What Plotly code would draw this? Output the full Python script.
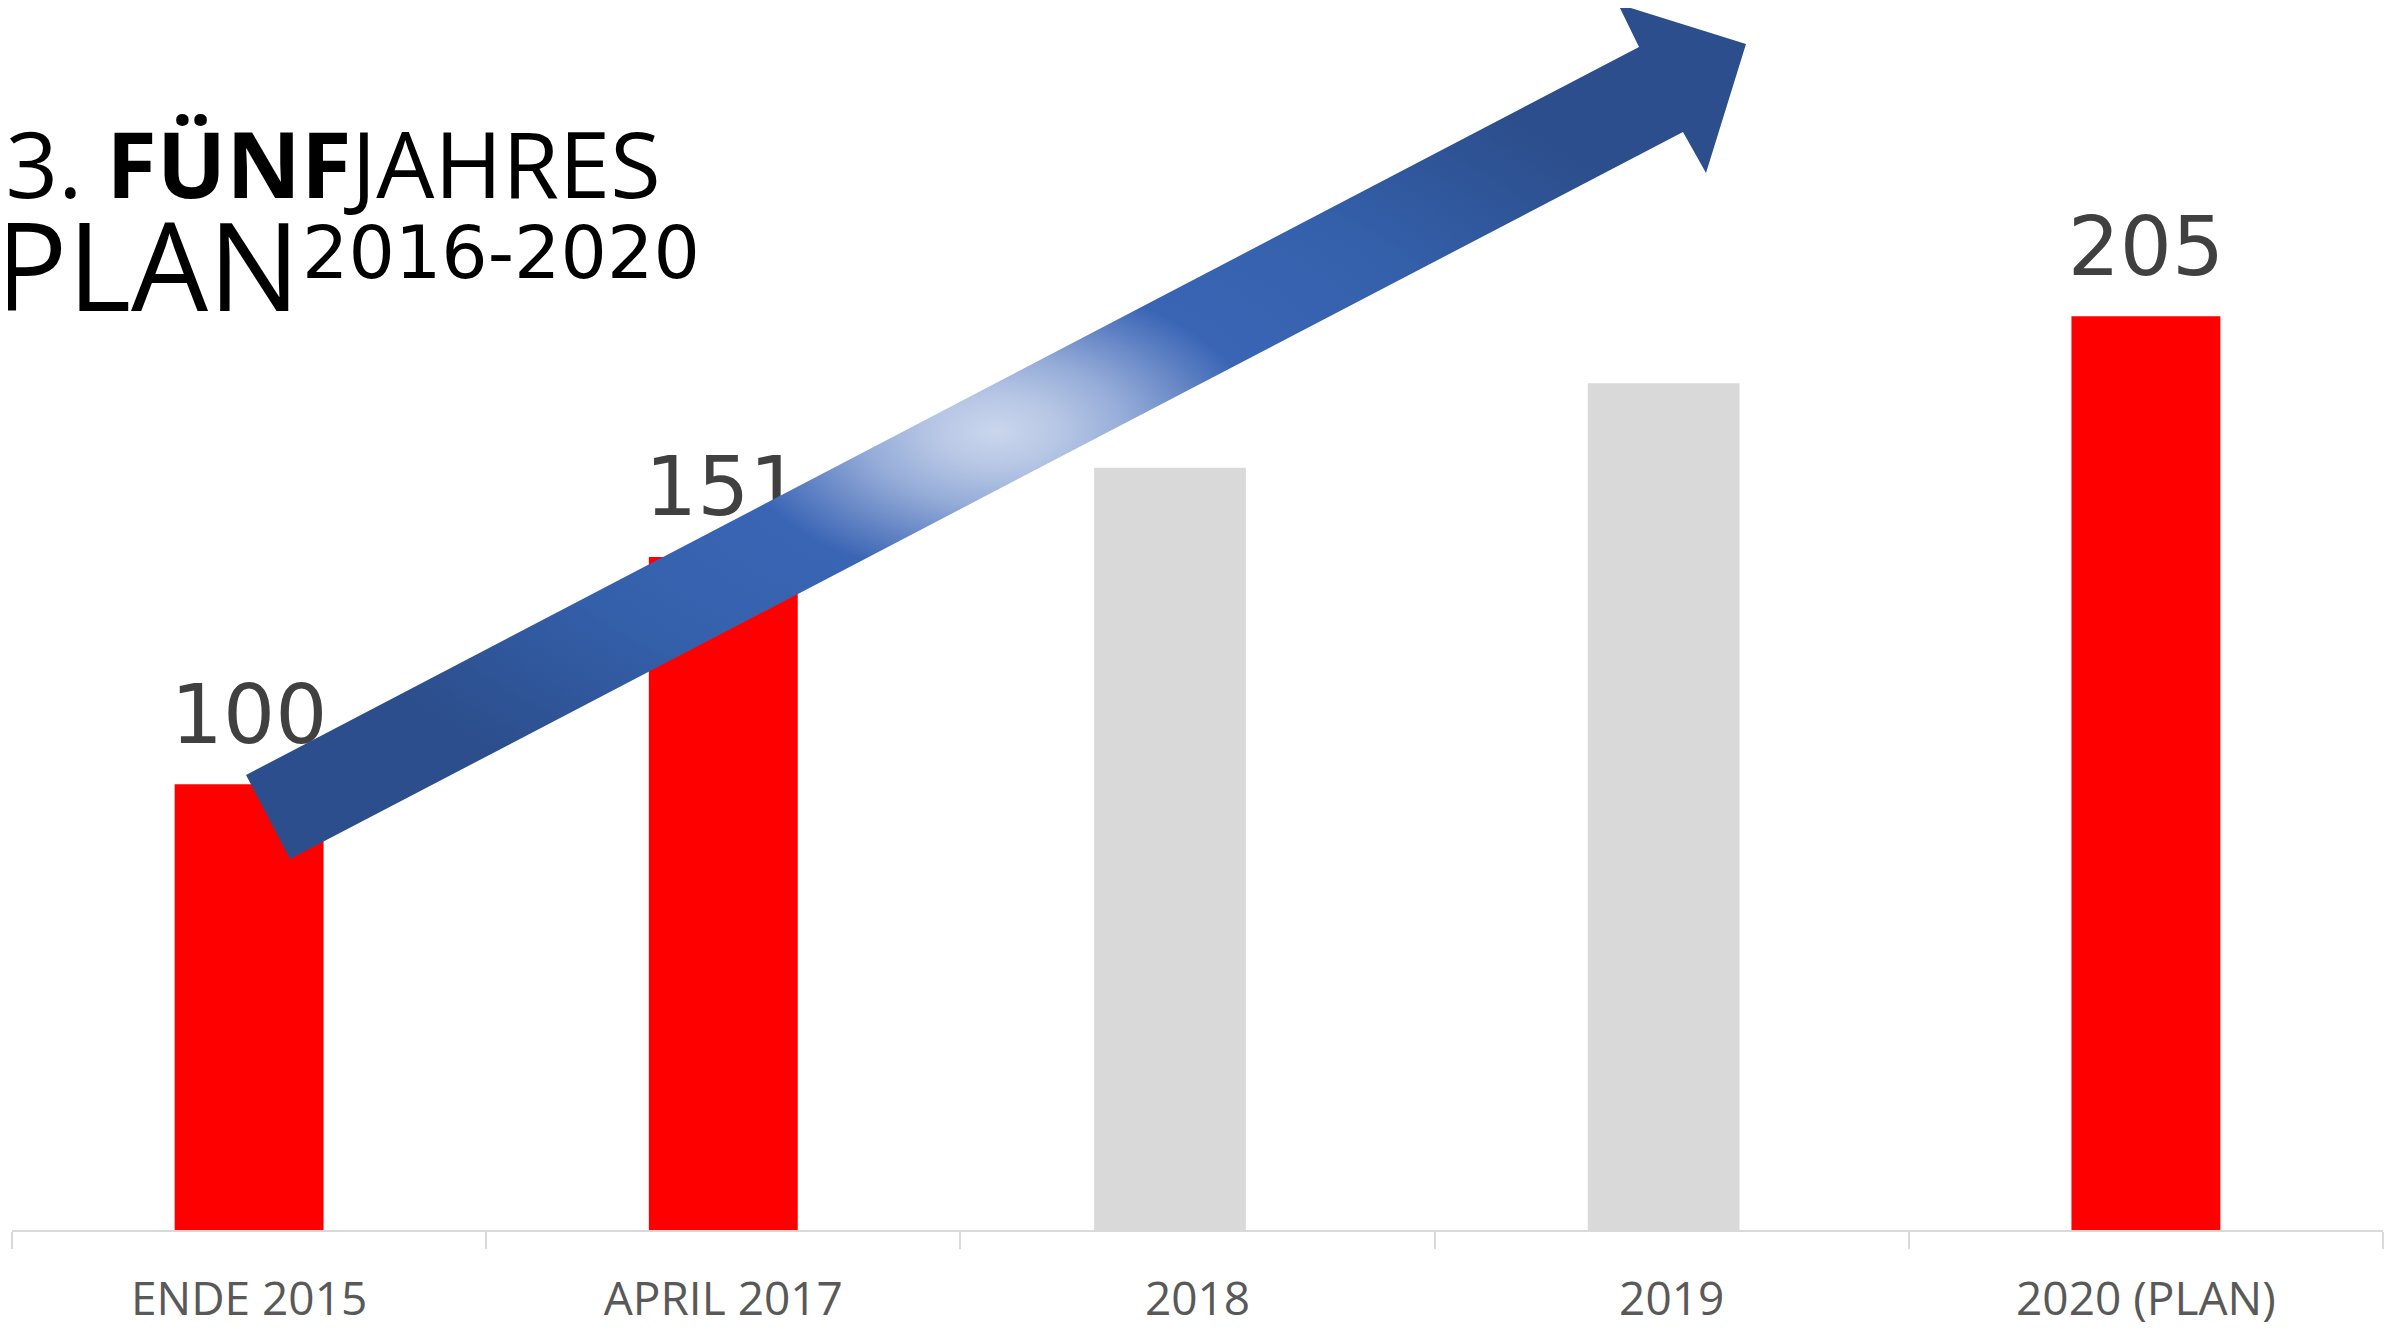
import plotly.graph_objects as go

# chart data
categories = ["ENDE 2015", "APRIL 2017", "2018", "2019", "2020 (PLAN)"]
values = [100, 151, 171, 190, 205]
highlighted = [True, True, False, False, True]

title_line1 = "13. <b>FÜNF</b>JAHRES"
title_line2 = "PLAN"
title_years = "2016-2020"

W, H = 2392, 1330
BODY = 8  # default page margin the browser puts round the figure
# plot area, in page pixels
PLOT_L, PLOT_R, PLOT_T, PLOT_B = 12, 2383, BODY, 1230
Y_MAX = (PLOT_B - PLOT_T) / 4.457
px_per_unit = (PLOT_B - PLOT_T) / Y_MAX

# big decorative arrow, in page pixels (x right, y down)
arrow_x = [246, 1639, 1618, 1746, 1706, 1683, 290, 246]
arrow_y = [775, 47, 4, 44, 173, 132, 859, 775]


def px(x):
    return (x - PLOT_L) / (PLOT_R - PLOT_L)


def py(y):
    return (PLOT_B - y) / (PLOT_B - PLOT_T)


red_x = [c for c, h in zip(categories, highlighted) if h]
red_y = [v for v, h in zip(values, highlighted) if h]
gray_x = [c for c, h in zip(categories, highlighted) if not h]
gray_y = [v for v, h in zip(values, highlighted) if not h]

fig = go.Figure()

fig.add_trace(go.Bar(x=red_x, y=red_y, marker=dict(color="#FF0000", line=dict(width=0)),
                     width=0.314, hoverinfo="skip"))
fig.add_trace(go.Bar(x=gray_x, y=gray_y, marker=dict(color="#D9D9D9", line=dict(width=0)),
                     width=0.32, offset=[-0.218, -0.177], hoverinfo="skip"))

# value labels (drawn under the arrow)
fig.add_trace(go.Scatter(x=red_x, y=[v + 62 / px_per_unit for v in red_y],
                         mode="text", text=[str(v) for v in red_y],
                         textposition="middle center",
                         textfont=dict(family="DejaVu Sans", size=82, color="#404040"),
                         hoverinfo="skip", cliponaxis=False))

fig.add_trace(go.Scatter(x=arrow_x, y=arrow_y, xaxis="x2", yaxis="y2",
                         mode="lines", fill="toself",
                         line=dict(width=0, color="rgba(0,0,0,0)"),
                         fillgradient=dict(type="radial", colorscale=[
                             [0.0, "#cad6ed"], [0.08, "#b8c7e5"], [0.17, "#97aed9"],
                             [0.26, "#6989c7"], [0.35, "#3a65b5"], [0.65, "#3460ab"],
                             [1.0, "#2c4e8c"]]),
                         hoverinfo="skip"))

# title
fig.add_annotation(xref="paper", yref="paper", x=px(663), y=py(162), xanchor="right",
                   yanchor="middle", text=title_line1, showarrow=False,
                   font=dict(family="Open Sans", size=92, color="#000000"))
fig.add_annotation(xref="paper", yref="paper", x=px(-8), y=py(264), xanchor="left",
                   yanchor="middle", text=title_line2, showarrow=False,
                   font=dict(family="Open Sans", size=122, color="#000000"))
fig.add_annotation(xref="paper", yref="paper", x=px(300), y=py(252), xanchor="left",
                   yanchor="middle", text=title_years, showarrow=False,
                   font=dict(family="DejaVu Sans", size=73, color="#000000"))

fig.update_layout(
    width=W, height=H,
    margin=dict(l=PLOT_L - BODY, r=W - (PLOT_R - BODY), t=PLOT_T - BODY,
                b=H - (PLOT_B - BODY), autoexpand=False),
    paper_bgcolor="white", plot_bgcolor="white",
    barmode="overlay", showlegend=False,
    xaxis=dict(type="category", categoryorder="array", categoryarray=categories,
               range=[-0.5, len(categories) - 0.5], showgrid=False, zeroline=False,
               showline=True, linecolor="#D9D9D9", linewidth=2,
               ticks="outside", tickson="boundaries", ticklen=17, tickwidth=2,
               tickcolor="#D9D9D9", ticklabelstandoff=28,
               tickfont=dict(family="Open Sans", size=46, color="#595959"),
               fixedrange=True),
    yaxis=dict(range=[0, Y_MAX], visible=False, fixedrange=True),
    xaxis2=dict(overlaying="x", range=[PLOT_L, PLOT_R], visible=False, fixedrange=True),
    yaxis2=dict(overlaying="y", range=[PLOT_B, PLOT_T], visible=False, fixedrange=True),
)

fig.write_html("out.html")
